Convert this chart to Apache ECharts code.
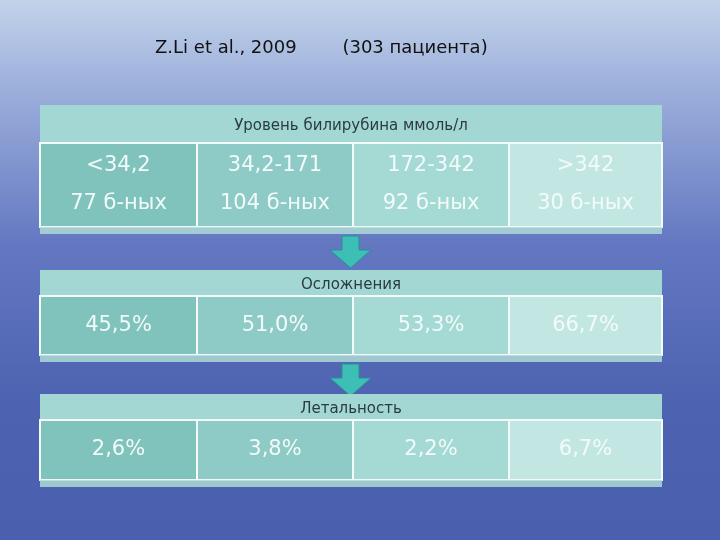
<!DOCTYPE html>
<html><head><meta charset="utf-8">
<script src="https://cdn.jsdelivr.net/npm/echarts@6/dist/echarts.min.js"></script>
<style>html,body{margin:0;padding:0}#c{width:720px;height:540px}</style>
</head><body><div id="c"></div>
<script>
var titleText = 'Z.Li et al., 2009        (303 пациента)';
var sectionTitles = ['Уровень билирубина ммоль/л', 'Осложнения', 'Летальность'];
var rangeLabels = ['<34,2', '34,2-171', '172-342', '>342'];
var patientCounts = ['77 б-ных', '104 б-ных', '92 б-ных', '30 б-ных'];
var complications = ['45,5%', '51,0%', '53,3%', '66,7%'];
var mortality = ['2,6%', '3,8%', '2,2%', '6,7%'];

var chart = echarts.init(document.getElementById('c'));
var colX = [40, 197, 353, 509, 662];
var cellColors = ['#7fc3bc', '#8ecbc6', '#a5d9d4', '#c2e7e3'];
var blocks = [
	{ top: 105, head: 38, body: 84, rows: [rangeLabels, patientCounts] },
	{ top: 270, head: 26, body: 59, rows: [complications] },
	{ top: 394, head: 26, body: 60, rows: [mortality] }
];
var els = [];
els.push({ type: 'text', left: 155, top: 39, style: { text: titleText, fill: '#111', font: '18px "DejaVu Sans"' } });
blocks.forEach(function(b, bi) {
	var y0 = b.top, y1 = b.top + b.head, y2 = y1 + b.body;
	els.push({ type: 'rect', shape: { x: 40, y: y0, width: 622, height: b.head }, style: { fill: '#a2d7d3' } });
	els.push({ type: 'text', style: { text: sectionTitles[bi], x: 351, y: y0 + b.head / 2 + 2, align: 'center', verticalAlign: 'middle', fill: '#2b3b40', font: '15px "DejaVu Sans"' } });
	for (var i = 0; i < 4; i++) {
		els.push({ type: 'rect', shape: { x: colX[i], y: y1, width: colX[i + 1] - colX[i], height: b.body }, style: { fill: cellColors[i], stroke: '#f4fbfb', lineWidth: 2 } });
		var txt = b.rows.map(function(r) { return r[i]; }).join('\n');
		els.push({ type: 'text', style: { text: txt, x: (colX[i] + colX[i + 1]) / 2, y: y1 + b.body / 2, align: 'center', verticalAlign: 'middle', fill: '#f2fbfa', font: '21px "DejaVu Sans"', lineHeight: 38 } });
	}
	els.push({ type: 'rect', shape: { x: 40, y: y2, width: 622, height: 7 }, style: { fill: '#aed9d6', opacity: 0.85 } });
	if (bi < 2) {
		var ay = y2 + 9;
		els.push({ type: 'polygon', shape: { points: [[342, ay], [359, ay], [359, ay + 14], [371, ay + 14], [350.5, ay + 32], [330, ay + 14], [342, ay + 14]] }, style: { fill: '#3dbfb6', stroke: '#2a8f98', lineWidth: 1 } });
	}
});
chart.setOption({
	backgroundColor: {
		type: 'linear', x: 0, y: 0, x2: 0, y2: 1,
		colorStops: [
			{ offset: 0, color: '#c3d3ea' }, { offset: 0.15, color: '#9fb2dc' },
			{ offset: 0.45, color: '#6478c2' }, { offset: 0.75, color: '#4d62b0' },
			{ offset: 1, color: '#4a5fae' }
		]
	},
	graphic: { elements: els }
});
</script></body></html>
